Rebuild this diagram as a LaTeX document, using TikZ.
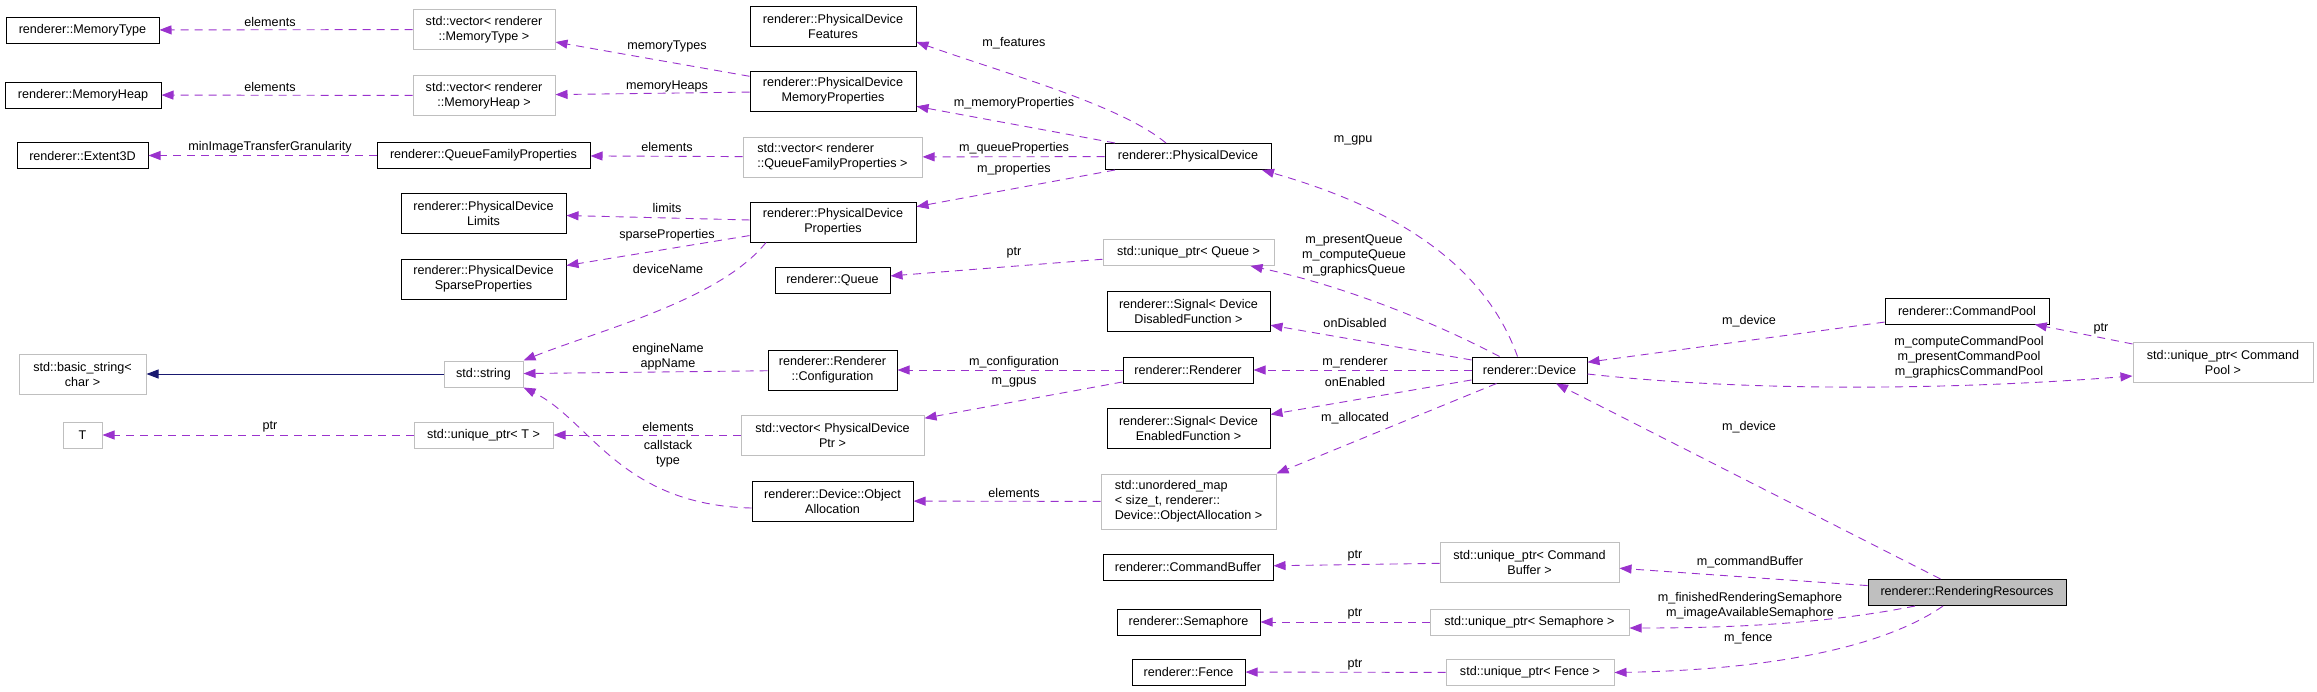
\documentclass[tikz,border=0pt]{standalone}
\usepackage{fontspec}
\setmainfont{Liberation Sans}
\usetikzlibrary{arrows.meta}

\definecolor{memcol}{RGB}{154,50,205}
\definecolor{inhcol}{RGB}{25,25,112}
\definecolor{extcol}{RGB}{191,191,191}

\tikzset{
  box/.style={draw=black, line width=1pt, inner xsep=0pt, inner ysep=2pt, minimum height=26, align=center},
  ext/.style={box, draw=extcol},
  cur/.style={box, fill=extcol},
  tall/.style={minimum height=40},
  taller/.style={minimum height=55},
  mem/.style={color=memcol, line width=0.9pt, dash pattern=on 8pt off 6pt, -{Triangle[length=12pt,width=9pt]}},
  inh/.style={color=inhcol, line width=1pt, -{Triangle[length=12pt,width=9pt]}},
  lbl/.style={inner sep=0pt, align=center},
}

\begin{document}
\begin{tikzpicture}[x=1pt, y=-1pt, font=\fontsize{12.6}{15}\selectfont]
\useasboundingbox (0,0) rectangle (2317,691);

% Классы слева
\node[box, minimum width=153] (mt) at (82.5,30) {renderer::MemoryType};
\node[box, minimum width=156] (mh) at (83,95) {renderer::MemoryHeap};
\node[box, minimum width=131] (ext) at (82.5,155.5) {renderer::Extent3D};
\node[ext, tall, minimum width=127] (bstr) at (82.5,374) {std::basic\_string<\\char >};
\node[ext, minimum width=39] (t) at (82.5,435) {T};

% Второй столбец
\node[ext, tall, minimum width=142] (vmt) at (484,29.5) {std::vector< renderer\\::MemoryType >};
\node[ext, tall, minimum width=142] (vmh) at (484,95.5) {std::vector< renderer\\::MemoryHeap >};
\node[box, minimum width=213] (qfp) at (483.5,155.5) {renderer::QueueFamilyProperties};
\node[box, tall, minimum width=165] (pdl) at (483.5,213.5) {renderer::PhysicalDevice\\Limits};
\node[box, tall, minimum width=165] (pdsp) at (483.5,279) {renderer::PhysicalDevice\\SparseProperties};
\node[ext, minimum width=79] (str) at (483.5,374) {std::string};
\node[ext, minimum width=139] (upt) at (483.5,435) {std::unique\_ptr< T >};

% Третий столбец
\node[box, tall, minimum width=166] (pdf) at (833,26) {renderer::PhysicalDevice\\Features};
\node[box, tall, minimum width=166] (pdmp) at (833,91) {renderer::PhysicalDevice\\MemoryProperties};
\node[ext, tall, align=left, minimum width=179] (vqfp) at (832.5,157) {std::vector< renderer\\::QueueFamilyProperties >};
\node[box, tall, minimum width=166] (pdp) at (833,222) {renderer::PhysicalDevice\\Properties};
\node[box, minimum width=115] (queue) at (832.5,280.5) {renderer::Queue};
\node[box, tall, minimum width=129] (rconf) at (832.5,370) {renderer::Renderer\\::Configuration};
\node[ext, tall, minimum width=183] (vpdp) at (832.5,435) {std::vector< PhysicalDevice\\Ptr >};
\node[box, tall, minimum width=161] (oalloc) at (832.5,501) {renderer::Device::Object\\Allocation};

% Четвёртый столбец
\node[box, minimum width=166] (pd) at (1188,156.5) {renderer::PhysicalDevice};
\node[ext, minimum width=171] (uptrq) at (1188.5,252.5) {std::unique\_ptr< Queue >};
\node[box, tall, minimum width=163] (sigd) at (1188.5,311) {renderer::Signal< Device\\DisabledFunction >};
\node[box, minimum width=130] (rend) at (1188,370) {renderer::Renderer};
\node[box, tall, minimum width=163] (sige) at (1188.5,428.5) {renderer::Signal< Device\\EnabledFunction >};
\node[ext, taller, align=left, minimum width=175] (umap) at (1188.5,501.5) {std::unordered\_map\\< size\_t, renderer::\\Device::ObjectAllocation >};
\node[box, minimum width=170] (cbuf) at (1188,567) {renderer::CommandBuffer};
\node[box, minimum width=143] (sem) at (1188.5,622) {renderer::Semaphore};
\node[box, minimum width=113] (fence) at (1188.5,672) {renderer::Fence};

% Пятый столбец
\node[box, minimum width=115] (dev) at (1529.5,370) {renderer::Device};
\node[ext, tall, minimum width=179] (ucb) at (1529.5,562) {std::unique\_ptr< Command\\Buffer >};
\node[ext, minimum width=199] (usem) at (1529.5,622) {std::unique\_ptr< Semaphore >};
\node[ext, minimum width=168] (ufence) at (1530,672.5) {std::unique\_ptr< Fence >};

% Справа
\node[box, minimum width=164] (cpool) at (1967,311) {renderer::CommandPool};
\node[cur, minimum width=198] (rr) at (1967,592.5) {renderer::RenderingResources};
\node[ext, tall, minimum width=180] (ucp) at (2223,362) {std::unique\_ptr< Command\\Pool >};

% Наследование
\draw[inh] (str) -- (bstr);

% Прямые связи
\foreach \a/\b in {vmt/mt, vmh/mh, qfp/ext, vqfp/qfp, pdmp/vmt, pdmp/vmh,
                   pdp/pdl, pdp/pdsp, upt/t, vpdp/upt, rconf/str,
                   pd/pdmp, pd/vqfp, pd/pdp, uptrq/queue, rend/rconf, rend/vpdp,
                   umap/oalloc, dev/sigd, dev/rend, dev/sige, cpool/dev, ucp/cpool,
                   rr/dev, rr/ucb, ucb/cbuf, usem/sem, ufence/fence} {
    \draw[mem] (\a) -- (\b);
}
\draw[mem] (dev) -- (umap.north east);

% Кривые связи
\draw[mem] ([xshift=-67pt]pdp.south) .. controls (720,300) and (600,330) .. (str.north east);
\draw[mem] ([yshift=-7pt]oalloc.west) .. controls (620,505) and (590,420) .. (str.south east);
\draw[mem] ([xshift=-22pt]pd.north) .. controls (1120,105) and (1010,75) .. ([yshift=-16pt]pdf.east);
\draw[mem] ([xshift=-12pt]dev.north) .. controls (1490,280) and (1420,215) .. ([xshift=74pt]pd.south);
\draw[mem] ([xshift=-30pt]dev.north) .. controls (1430,320) and (1340,285) .. ([xshift=62pt]uptrq.south);
\draw[mem] ([yshift=-4pt]dev.east) .. controls (1750,392) and (1950,390) .. ([yshift=-14pt]ucp.west);
\draw[mem] ([xshift=-52pt]rr.south) .. controls (1820,625) and (1720,628) .. ([yshift=-6pt]usem.east);
\draw[mem] ([xshift=-24pt]rr.south) .. controls (1880,650) and (1760,670) .. (ufence.east);

% Подписи
\foreach \x/\y/\txt in {
270/22/elements, 667/46/memoryTypes, 667/86/memoryHeaps, 270/87/elements,
270/147/minImageTransferGranularity, 667/147/elements, 667/208/limits,
667/235/sparseProperties, 668/269/deviceName, 668/356.5/{engineName\\appName},
270/427/ptr, 668/427/elements, 668/454/{callstack\\type},
1014/43/m\_features, 1014/103/m\_memoryProperties, 1014/148/m\_queueProperties,
1014/169/m\_properties, 1014/253/ptr, 1014/362/m\_configuration, 1014/382/m\_gpus,
1014/493/elements, 1353/140/m\_gpu,
1354/255/{m\_presentQueue\\m\_computeQueue\\m\_graphicsQueue},
1355/323/onDisabled, 1355/362/m\_renderer, 1355/382/onEnabled, 1355/418/m\_allocated,
1355/556/ptr, 1355/614/ptr, 1355/665/ptr,
1749/321/m\_device, 1969/357/{m\_computeCommandPool\\m\_presentCommandPool\\m\_graphicsCommandPool},
2101/329/ptr, 1749/427/m\_device, 1750/562/m\_commandBuffer,
1750/605.5/{m\_finishedRenderingSemaphore\\m\_imageAvailableSemaphore}, 1750/638/m\_fence
} {
    \node[lbl] at (\x,\y) {\txt};
}

\end{tikzpicture}
\end{document}
